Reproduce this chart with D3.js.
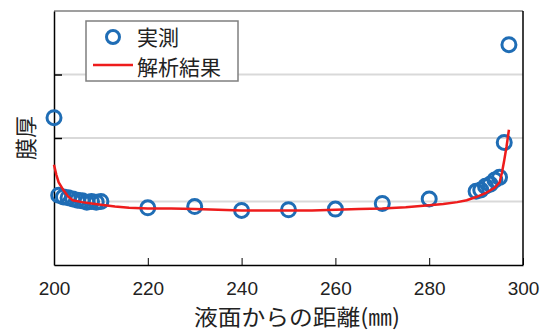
<!DOCTYPE html>
<html><head><meta charset="utf-8">
<script src="https://cdn.jsdelivr.net/npm/d3@7"></script>
<style>
html,body{margin:0;padding:0;background:#fff;}
svg{display:block;}
</style></head>
<body>
<script>
// ---- data ----
const xTicks = [200, 220, 240, 260, 280, 300];
const yTicks = [1, 2, 3];
const measX = [200, 201, 202, 203, 204, 205, 206, 207, 208, 209, 210, 220, 230, 240, 250, 260, 270, 280, 290, 291, 292, 293, 294, 295, 296, 297];
const measY = [2.32, 1.10, 1.07, 1.06, 1.04, 1.02, 1.01, 0.99, 1.00, 0.99, 1.00, 0.90, 0.92, 0.86, 0.87, 0.88, 0.97, 1.04, 1.16, 1.18, 1.24, 1.27, 1.34, 1.38, 1.93, 3.47];
const calcX = [200, 200.5, 201, 202, 203, 204, 206, 208, 210, 213, 216, 220, 225, 230, 235, 240, 245, 250, 255, 260, 265, 270, 275, 280, 283, 286, 288, 290, 292, 294, 295, 295.5, 296, 296.5, 297];
const calcY = [1.58, 1.42, 1.30, 1.18, 1.08, 1.02, 0.99, 0.97, 0.95, 0.92, 0.90, 0.89, 0.89, 0.88, 0.87, 0.86, 0.86, 0.86, 0.86, 0.87, 0.88, 0.89, 0.91, 0.94, 0.96, 0.99, 1.02, 1.07, 1.13, 1.22, 1.30, 1.45, 1.65, 1.87, 2.13];
const legendLabels = ["実測", "解析結果"];
const xTitle = "液面からの距離(㎜)";
const yTitle = "膜厚";

const W = 547, H = 330;
const L = 54, R = 523, T = 11, B = 265;
const blue = "#1f6db5", red = "#ee1c1c";
const jp = "'Noto Sans CJK JP', sans-serif";
const num = "'Liberation Sans', Arial, sans-serif";

const svg = d3.select("body").append("svg").attr("width", W).attr("height", H);
const x = d3.scaleLinear().domain([200, 300]).range([L, R]);
const y = d3.scaleLinear().domain([0, 4]).range([B, T]);

// gridlines
svg.append("g").selectAll("line").data(yTicks).join("line")
  .attr("x1", L).attr("x2", R).attr("y1", d => y(d)).attr("y2", d => y(d))
  .attr("stroke", "#d9d9d9").attr("stroke-width", 2);

// frame
svg.append("line").attr("x1", L).attr("x2", R).attr("y1", T).attr("y2", T).attr("stroke", "#7f7f7f").attr("stroke-width", 1.5);
svg.append("line").attr("x1", R).attr("x2", R).attr("y1", T).attr("y2", B).attr("stroke", "#000").attr("stroke-width", 1.5);

// x axis (ticks inward)
const xAxis = d3.axisBottom(x).tickValues(xTicks).tickSizeInner(-7).tickSizeOuter(0).tickPadding(17).tickFormat(d3.format("d"));
const gx = svg.append("g").attr("transform", `translate(0,${B})`).call(xAxis);
gx.select(".domain").attr("stroke", "#000").attr("stroke-width", 1.5);
gx.selectAll(".tick line").attr("stroke", "#000").attr("stroke-width", 1);
gx.selectAll(".tick text").attr("font-family", num).attr("font-size", 19).attr("fill", "#222");

// y axis (no labels, ticks inward)
const yAxis = d3.axisLeft(y).tickValues(yTicks).tickSizeInner(-8).tickSizeOuter(0).tickFormat("");
const gy = svg.append("g").attr("transform", `translate(${L},0)`).call(yAxis);
gy.select(".domain").attr("stroke", "#000").attr("stroke-width", 1.5);
gy.selectAll(".tick line").attr("stroke", "#000").attr("stroke-width", 1.5);

// measured circles
svg.append("g").selectAll("circle").data(measX).join("circle")
  .attr("cx", d => x(d)).attr("cy", (d, i) => y(measY[i])).attr("r", 7)
  .attr("fill", "none").attr("stroke", blue).attr("stroke-width", 3);

// calculated line
const line = d3.line().x(d => x(d[0])).y(d => y(d[1]));
svg.append("path").datum(calcX.map((d, i) => [d, calcY[i]]))
  .attr("d", line).attr("fill", "none").attr("stroke", red).attr("stroke-width", 2.5);

// axis titles
svg.append("text").attr("x", 297).attr("y", 325).attr("text-anchor", "middle")
  .attr("font-family", jp).attr("font-size", 22).attr("fill", "#222")
  .attr("textLength", 206).attr("lengthAdjust", "spacingAndGlyphs").text(xTitle);
svg.append("text").attr("transform", "translate(34,138) rotate(-90)").attr("text-anchor", "middle")
  .attr("font-family", jp).attr("font-size", 22).attr("fill", "#222").text(yTitle);

// legend
const lg = svg.append("g");
lg.append("rect").attr("x", 86).attr("y", 21).attr("width", 152).attr("height", 60)
  .attr("fill", "#fff").attr("stroke", "#7f7f7f").attr("stroke-width", 1.5);
lg.append("circle").attr("cx", 113).attr("cy", 37).attr("r", 6.5)
  .attr("fill", "none").attr("stroke", blue).attr("stroke-width", 3);
lg.append("line").attr("x1", 93).attr("x2", 133).attr("y1", 65).attr("y2", 65)
  .attr("stroke", red).attr("stroke-width", 2.5);
lg.selectAll("text").data(legendLabels).join("text")
  .attr("x", 137).attr("y", (d, i) => 44.5 + i * 30.5)
  .attr("font-family", jp).attr("font-size", 21).attr("fill", "#222").text(d => d);
</script>
</body></html>
